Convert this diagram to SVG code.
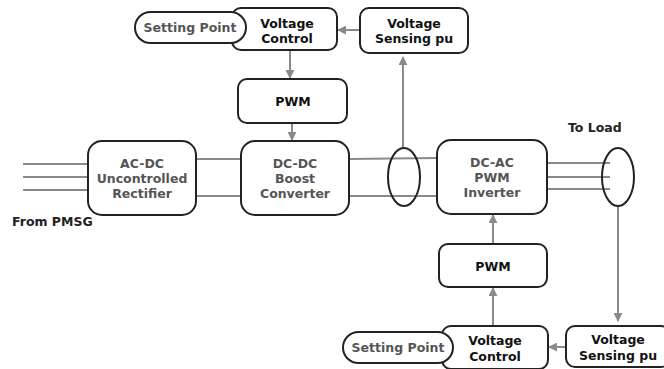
<svg xmlns="http://www.w3.org/2000/svg" width="664" height="369" viewBox="0 0 664 369">
<style>
.box{fill:#fff;stroke:#222;stroke-width:2}
.ell{fill:none;stroke:#222;stroke-width:2}
.ln{fill:none;stroke:#8a8a8a;stroke-width:2}
.t{font-family:"DejaVu Sans",Verdana,sans-serif;font-size:12.5px;font-weight:bold;text-anchor:middle;fill:#111}
.g{fill:#555}
.lab{font-family:"DejaVu Sans",Verdana,sans-serif;font-size:12.5px;font-weight:bold;fill:#222}
</style>
<defs>
<marker id="ah" viewBox="0 0 10 10" refX="9" refY="5" markerWidth="4.5" markerHeight="4.5" orient="auto" markerUnits="strokeWidth">
<path d="M0,0 L10,5 L0,10 z" fill="#8a8a8a"/>
</marker>
</defs>
<g id="connectors">
<line class="ln" x1="23" y1="164" x2="88" y2="164"/>
<line class="ln" x1="23" y1="177" x2="88" y2="177"/>
<line class="ln" x1="23" y1="190" x2="88" y2="190"/>
<line class="ln" x1="196" y1="159" x2="241" y2="159"/>
<line class="ln" x1="196" y1="196" x2="241" y2="196"/>
<line class="ln" x1="349" y1="159" x2="437" y2="158"/>
<line class="ln" x1="349" y1="196" x2="437" y2="196"/>
<line class="ln" x1="547" y1="163" x2="610" y2="163"/>
<line class="ln" x1="547" y1="177" x2="610" y2="177"/>
<line class="ln" x1="547" y1="189" x2="610" y2="189"/>
<line class="ln" x1="290" y1="51" x2="290" y2="78" marker-end="url(#ah)"/>
<line class="ln" x1="292" y1="123" x2="292" y2="140" marker-end="url(#ah)"/>
<line class="ln" x1="360" y1="30" x2="338" y2="30" marker-end="url(#ah)"/>
<line class="ln" x1="403" y1="148" x2="403" y2="57" marker-end="url(#ah)"/>
<line class="ln" x1="618" y1="206" x2="618" y2="321" marker-end="url(#ah)"/>
<line class="ln" x1="566" y1="347" x2="549" y2="347" marker-end="url(#ah)"/>
<line class="ln" x1="493" y1="326" x2="493" y2="288" marker-end="url(#ah)"/>
<line class="ln" x1="493" y1="244" x2="493" y2="215" marker-end="url(#ah)"/>
<ellipse class="ell" cx="404" cy="177" rx="16" ry="29"/>
<ellipse class="ell" cx="618" cy="177" rx="16" ry="29"/>
</g>
<g id="vc-top">
<rect class="box" x="232" y="8" width="105" height="42" rx="9"/>
<text class="t" x="287" y="28">Voltage</text>
<text class="t" x="287" y="43">Control</text>
</g>
<g id="setpoint-top">
<rect class="box" x="135" y="12" width="111" height="31" rx="15.5"/>
<text class="t g" x="190" y="32">Setting Point</text>
</g>
<g id="vs-top">
<rect class="box" x="360" y="8" width="108" height="45" rx="9"/>
<text class="t" x="414" y="28">Voltage</text>
<text class="t" x="414" y="43">Sensing pu</text>
</g>
<g id="pwm-top">
<rect class="box" x="238" y="79" width="109" height="44" rx="9"/>
<text class="t" x="293" y="106">PWM</text>
</g>
<g id="acdc">
<rect class="box" x="88" y="141" width="108" height="74" rx="14"/>
<text class="t g" x="142" y="168">AC-DC</text>
<text class="t g" x="142" y="183">Uncontrolled</text>
<text class="t g" x="142" y="198">Rectifier</text>
</g>
<g id="dcdc">
<rect class="box" x="241" y="141" width="108" height="74" rx="14"/>
<text class="t g" x="295" y="168">DC-DC</text>
<text class="t g" x="295" y="183">Boost</text>
<text class="t g" x="295" y="198">Converter</text>
</g>
<g id="dcac">
<rect class="box" x="437" y="140" width="110" height="74" rx="14"/>
<text class="t g" x="492" y="167">DC-AC</text>
<text class="t g" x="492" y="182">PWM</text>
<text class="t g" x="492" y="197">Inverter</text>
</g>
<g id="pwm-bottom">
<rect class="box" x="439" y="244" width="108" height="43" rx="9"/>
<text class="t" x="493" y="271">PWM</text>
</g>
<g id="vc-bottom">
<rect class="box" x="442" y="326" width="106" height="43" rx="9"/>
<text class="t" x="495" y="345">Voltage</text>
<text class="t" x="495" y="361">Control</text>
</g>
<g id="setpoint-bottom">
<rect class="box" x="343" y="332" width="110" height="31" rx="15.5"/>
<text class="t g" x="398" y="352">Setting Point</text>
</g>
<g id="vs-bottom">
<rect class="box" x="566" y="326" width="104" height="41" rx="9"/>
<text class="t" x="618" y="344">Voltage</text>
<text class="t" x="618" y="360">Sensing pu</text>
</g>
<g id="labels">
<text class="lab" x="12" y="226">From PMSG</text>
<text class="lab" x="568" y="132">To Load</text>
</g>
</svg>
